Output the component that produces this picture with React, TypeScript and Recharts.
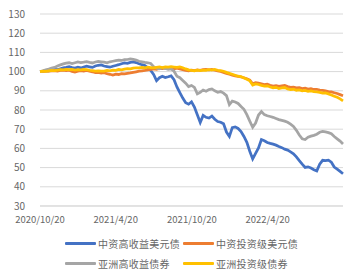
import { CartesianGrid, Line, LineChart, XAxis, YAxis } from 'recharts'

// weekly index values, 2020/10/20 = 100
const CN_HY = [
  100, 100.2, 100.5, 100.4, 100.8, 101.2, 101, 101.5, 102, 102.2,
  102.6, 102.1, 101.8, 102.3, 101.9, 102.4, 102.8, 102.5, 102.2, 102.9,
  103.3, 103.5, 102.9, 102.6, 102.3, 102.8, 103.2, 103.6, 104.1, 104.5,
  104.3, 104.8, 105, 104.7, 104.1, 103.6, 103.2, 102, 100.6, 98.5,
  95.3, 96.8, 97.6, 96.9, 97.3, 97.8, 95.8, 92, 89, 86.2,
  83.8, 83, 84.2, 81.5, 77.5, 73.5, 77.2, 76.2, 75.8, 76.8,
  75.2, 74, 73.6, 72.8, 68.5, 66.2, 70.8, 71.2, 70.4, 68.8,
  66.2, 63.2, 58.5, 54.5, 57.4, 60.2, 64.6, 64, 63.1, 62.6,
  62.2, 61.7, 61, 60.4, 59.6, 59.1, 58.2, 57.2, 55.6, 53.6,
  51.8, 50.1, 50.4, 49.8, 48.9, 48.3, 51.8, 53.8, 53.6, 53.9,
  52.8, 50.3, 49.2, 48, 46.8,
]

const CN_IG = [
  100, 100.1, 100.3, 100.2, 100.4, 100.5, 100.3, 100.6, 100.8, 100.5,
  100.7, 100.1, 99.8, 100.2, 100.5, 100.3, 100.6, 100.2, 99.9, 99.5,
  99.6, 99.2, 99.4, 98.9, 98.6, 98.2, 98.7, 98.5, 98.9, 98.8,
  99.1, 99.3, 99.6, 99.9, 100.2, 100.4, 100.6, 100.9, 101.1, 101.4,
  101.2, 101.6, 101.5, 101.8, 101.6, 101.9, 101.5, 101.8, 101.4, 101,
  100.6, 100.4, 100.7, 100.5, 100.9, 100.6, 101, 101.2, 100.9, 101.1,
  100.7, 100.4, 100.1, 99.6, 99, 98.6, 98.2, 97.8, 97.5, 97.2,
  96.8, 96.3, 95.6, 93.6, 94.2, 94, 93.6, 93.2, 93.4, 92.9,
  92.5, 92.7, 92.3, 92.6, 92.8, 92.2, 91.8, 91.9, 91.5, 91.7,
  91.2, 91.4, 90.9, 91.1, 90.7, 90.8, 90.4, 90.2, 90, 89.6,
  89.4, 89, 88.6, 88, 87.4,
]

const ASIA_HY = [
  100, 100.4, 100.9, 101.3, 101.8, 102.2, 102.9, 103.5, 104, 104.4,
  104.6, 104.2, 104.6, 105, 104.7, 104.9, 105.2, 104.8, 104.5, 105,
  105.3, 105.1, 104.9, 104.6, 105.1, 105.4, 105.7, 106, 105.8, 106.2,
  106.3, 106.6, 106.4, 106, 105.4, 105.1, 104.8, 104.6, 104.2, 102.6,
  101.8, 101.5, 102, 101.6, 101.2, 101.4, 100.2, 97.6, 96.8, 95.4,
  94, 92.2, 92.8, 91.8, 88.4, 89.2, 90.4, 89.8, 90.6, 91,
  90, 89.2, 89.6, 88.8, 87.5, 82.8, 84.6, 84.2, 83.4, 81.8,
  80.4, 77.6, 74.2, 71, 73.2, 77.4, 79.2, 77.6, 77, 76.6,
  76.2, 75.6, 75, 74.6, 74.2, 73.6, 72.6, 71.4, 69.4, 67,
  65, 64.6, 65.8, 66.4, 66.8, 67.4, 68.4, 68.8, 68.6, 68.2,
  67.6, 66.2, 65, 63.8, 62.3,
]

const ASIA_IG = [
  100, 100.2, 100.1, 100.4, 100.6, 100.5, 100.8, 101, 100.9, 101.2,
  101, 101.1, 100.8, 101, 100.9, 101.2, 101, 100.7, 100.5, 100.3,
  100.4, 100.2, 100.3, 100.6, 100.4, 100.8, 100.7, 101.1, 100.9, 101.3,
  101.5, 101.4, 101.8, 102, 101.9, 102.2, 102, 102.3, 102.1, 101.9,
  102.2, 102.4, 102.1, 102.5, 102.3, 102.6, 102.4, 102.2, 102.5, 102,
  101.4, 100.9, 100.6, 100.4, 100.7, 100.5, 100.8, 100.6, 101, 100.8,
  101.1, 100.7, 100.5, 100.2, 99.6, 99.1, 98.6, 98.1, 97.6, 97.4,
  96.7, 96, 95.2, 93, 93.6, 93.3, 92.8, 92.4, 92.6, 92,
  91.6, 91.8, 91.2, 91.5, 91.7, 91, 90.6, 90.8, 90.3, 90.5,
  90, 90.2, 89.7, 89.9, 89.6, 89.4, 89.2, 88.8, 88.9, 88.4,
  87.8, 87.2, 86.6, 85.8, 84.8,
]

// x ticks: weeks since 2020/10/20
const TICK_WEEKS = [0, 26, 52.14, 78.14]
const TICK_LABELS = ['2020/10/20', '2021/4/20', '2021/10/20', '2022/4/20']
const Y_TICKS = [30, 40, 50, 60, 70, 80, 90, 100, 110, 120, 130]

const SERIES = [
  { key: 'cnHy', name: '中资高收益美元债', color: '#4472C4' },
  { key: 'cnIg', name: '中资投资级美元债', color: '#ED7D31' },
  { key: 'asiaHy', name: '亚洲高收益债券', color: '#A5A5A5' },
  { key: 'asiaIg', name: '亚洲投资级债券', color: '#FFC000' },
]

const FONT = '"Noto Sans CJK SC", "Noto Sans", sans-serif'
const TEXT = '#666666'

const data = CN_HY.map((v, i) => ({
  week: i,
  cnHy: v,
  cnIg: CN_IG[i],
  asiaHy: ASIA_HY[i],
  asiaIg: ASIA_IG[i],
}))

function tickLabel(value: number) {
  const idx = TICK_WEEKS.indexOf(value)
  return idx >= 0 ? TICK_LABELS[idx] : ''
}

export default function App() {
  return (
    <div
      style={{
        position: 'absolute',
        left: 0,
        top: 0,
        width: 360,
        height: 280,
        background: '#fff',
        fontFamily: FONT,
      }}
    >
      <LineChart width={360} height={236} data={data} margin={{ top: 14, right: 17, bottom: 0, left: 0 }}>
        <CartesianGrid stroke="#d9d9d9" vertical={false} />
        <XAxis
          dataKey="week"
          type="number"
          domain={[0, 104]}
          ticks={TICK_WEEKS}
          tickFormatter={tickLabel}
          interval={0}
          height={30}
          stroke="#d9d9d9"
          tickLine={false}
          tickMargin={4}
          tick={{ fill: TEXT, fontSize: 9.5, fontFamily: FONT }}
        />
        <YAxis
          domain={[30, 130]}
          ticks={Y_TICKS}
          interval={0}
          width={40}
          axisLine={false}
          tickLine={false}
          tickMargin={9}
          tick={{ fill: TEXT, fontSize: 10, fontFamily: FONT }}
        />
        {SERIES.map((s) => (
          <Line
            key={s.key}
            dataKey={s.key}
            name={s.name}
            stroke={s.color}
            strokeWidth={2.75}
            dot={false}
            type="linear"
            isAnimationActive={false}
          />
        ))}
      </LineChart>
      <div
        style={{
          position: 'absolute',
          left: 65,
          top: 233,
          display: 'grid',
          gridTemplateColumns: '118px 118px',
          rowGap: 0,
        }}
      >
        {SERIES.map((s) => (
          <div key={s.key} style={{ display: 'flex', alignItems: 'center', height: 20 }}>
            <span style={{ width: 31, height: 3, background: s.color, display: 'inline-block', borderRadius: 1 }} />
            <span style={{ marginLeft: 2, fontSize: 10, color: TEXT, letterSpacing: 0.25, whiteSpace: 'nowrap' }}>
              {s.name}
            </span>
          </div>
        ))}
      </div>
    </div>
  )
}
